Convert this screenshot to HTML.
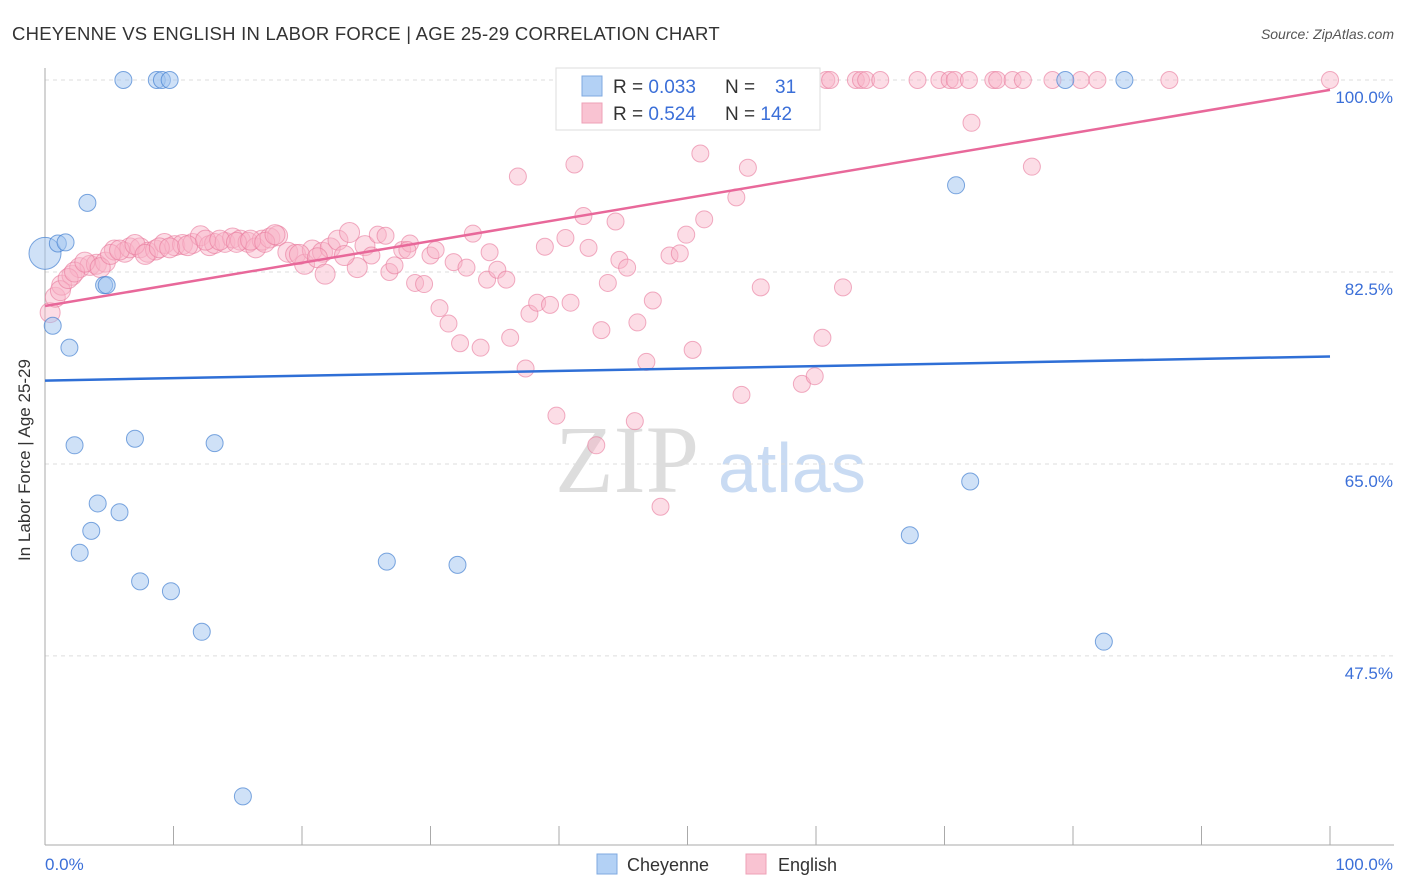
<!DOCTYPE html>
<html><head><meta charset="utf-8"><style>
body{margin:0;background:#fff;font-family:"Liberation Sans",sans-serif;}
svg{display:block}
</style></head><body>
<svg id="chart" width="1406" height="892" xmlns="http://www.w3.org/2000/svg">
<text x="12" y="40" font-size="18.5" letter-spacing="0.25" fill="#333">CHEYENNE VS ENGLISH IN LABOR FORCE | AGE 25-29 CORRELATION CHART</text>
<text x="1394" y="39" font-size="14" fill="#555" font-style="italic" text-anchor="end">Source: ZipAtlas.com</text>
<text x="555" y="492" font-size="96" fill="#ddd" font-family="Liberation Serif,serif">ZIP</text>
<text x="718" y="492" font-size="70" fill="#c9dbf3">atlas</text>
<g id="grid"></g><g id="axes"></g><g id="pts"></g><g id="trend"></g>
<text x="30" y="460" font-size="17" fill="#333" text-anchor="middle" transform="rotate(-90 30 460)">In Labor Force | Age 25-29</text>
<g>
<rect x="556" y="68" width="264" height="62" fill="#fff" stroke="#ddd"/>
<rect x="582" y="76" width="20" height="20" fill="#b3d1f5" stroke="#7fa9e0"/>
<rect x="582" y="103" width="20" height="20" fill="#f9c3d2" stroke="#eea0b7"/>
<text x="613" y="93" font-size="19" fill="#333">R = <tspan fill="#3b6fd8">0.033</tspan></text>
<text x="725" y="93" font-size="19" fill="#333">N = <tspan fill="#3b6fd8" x="775">31</tspan></text>
<text x="613" y="120" font-size="19" fill="#333">R = <tspan fill="#3b6fd8">0.524</tspan></text>
<text x="725" y="120" font-size="19" fill="#333">N = <tspan fill="#3b6fd8">142</tspan></text>
</g>
<g>
<rect x="597" y="854" width="20" height="20" fill="#b3d1f5" stroke="#7fa9e0"/>
<text x="627" y="871" font-size="18" fill="#333">Cheyenne</text>
<rect x="746" y="854" width="20" height="20" fill="#f9c3d2" stroke="#eea0b7"/>
<text x="778" y="871" font-size="18" fill="#333">English</text>
</g>
</svg>
<script>
const cheyX=[0,1.0,1.6,3.3,4.6,4.8,0.6,1.9,6.1,8.7,9.1,9.7,2.3,7.0,13.2,4.1,3.6,5.8,2.7,7.4,9.8,12.2,26.6,32.1,15.4,70.9,72.0,67.3,82.4,79.4,84.0];
const cheyY=[84.2,85.1,85.2,88.8,81.3,81.3,77.6,75.6,100,100,100,100,66.7,67.3,66.9,61.4,58.9,60.6,56.9,54.3,53.4,49.7,56.1,55.8,34.7,90.4,63.4,58.5,48.8,100,100];
const engX=[48.5,48.8,52.4,55.3,56.9,57.7,58.8,60.8,61.1,63.1,63.5,63.9,65.0,67.9,69.6,70.4,70.8,71.9,73.8,74.1,75.3,76.1,78.4,80.6,81.9,87.5,100,
0.4,0.8,1.3,2.1,2.7,3.5,4.0,4.7,5.4,6.2,6.6,7.4,8.0,8.6,9.3,10.1,10.7,11.5,12.1,12.8,13.2,14.0,14.6,15.2,15.8,16.4,16.9,17.5,18.1,18.9,19.5,20.2,20.8,21.6,22.2,22.8,23.7,24.3,24.9,25.4,25.9,26.5,26.8,27.2,27.8,28.4,28.8,29.5,30.0,30.4,30.7,31.4,31.8,32.3,32.8,33.3,33.9,34.4,34.6,35.2,35.9,36.2,36.8,37.4,37.7,38.3,38.9,39.3,39.8,40.5,40.9,41.2,41.9,42.3,42.9,43.3,43.8,44.4,44.7,45.3,45.9,46.1,46.8,47.3,47.9,48.6,49.4,49.9,50.4,51.0,51.3,53.8,54.2,54.7,55.7,58.9,59.9,60.5,62.1,72.1,76.8,
1.2,1.8,2.3,3.1,4.3,5.1,5.8,7.0,7.8,8.9,9.7,11.1,12.5,13.6,14.9,16.0,17.1,17.9,19.8,21.2,23.3,21.8,28.2];
const engY=[100,100,100,100,100,100,100,100,100,100,100,100,100,100,100,100,100,100,100,100,100,100,100,100,100,100,100,
78.8,80.2,81.3,82.2,82.9,83.1,83.2,83.4,84.5,84.3,84.7,84.7,84.3,84.5,85.1,84.9,85.0,85.1,85.8,84.9,85.1,85.2,85.6,85.4,85.2,84.7,85.4,85.6,85.8,84.3,84.1,83.2,84.5,84.3,84.7,85.4,86.1,82.9,84.9,84.0,85.9,85.8,82.5,83.1,84.5,85.1,81.5,81.4,84.0,84.5,79.2,77.8,83.4,76.0,82.9,86.0,75.6,81.8,84.3,82.7,81.8,76.5,91.2,73.7,78.7,79.7,84.8,79.5,69.4,85.6,79.7,92.3,87.6,84.7,66.7,77.2,81.5,87.1,83.6,82.9,68.9,77.9,74.3,79.9,61.1,84.0,84.2,85.9,75.4,93.3,87.3,89.3,71.3,92.0,81.1,72.3,73.0,76.5,81.1,96.1,92.1,
80.8,81.9,82.5,83.4,82.9,84.1,84.5,85.0,84.1,84.7,84.7,84.9,85.4,85.4,85.2,85.4,85.2,85.9,84.1,83.8,84.0,82.3,84.5];
const trendCheyY=[72.6,74.8];
const trendEngY=[79.4,99.1];
const yTicks=[100,82.5,65,47.5];
const yTickLabels=["100.0%","82.5%","65.0%","47.5%"];

const NS="http://www.w3.org/2000/svg";
const sx=v=>45+v*12.85;
const sy=v=>80+(100-v)*10.97;
function mk(tag,attrs,parent){const e=document.createElementNS(NS,tag);for(const k in attrs)e.setAttribute(k,attrs[k]);parent.appendChild(e);return e;}
const grid=document.getElementById('grid'),axes=document.getElementById('axes'),pts=document.getElementById('pts'),tr=document.getElementById('trend');
yTicks.forEach((t,i)=>{
 const l=mk('line',{x1:45,x2:1394,y1:sy(t),y2:sy(t),stroke:'#ddd','stroke-dasharray':'4,4'},grid);
 
 
 const tx=mk('text',{x:1393,y:sy(t)+23,'font-size':17,fill:'#3b6fd8','text-anchor':'end'},axes);
 tx.textContent=yTickLabels[i];
 
 
});
const ax=mk('line',{x1:45,x2:45,y1:68,y2:845,stroke:'#aaa'},axes);


const bx=mk('line',{x1:45,x2:1394,y1:845,y2:845,stroke:'#aaa'},axes);


for(let i=0;i<=10;i++){
 const t=mk('line',{x1:sx(i*10),x2:sx(i*10),y1:826,y2:845,stroke:'#aaa'},axes);
 
 
}
const xl=mk('text',{x:45,y:870,'font-size':17,fill:'#3b6fd8'},axes);xl.textContent='0.0%';


const xr=mk('text',{x:1393,y:870,'font-size':17,fill:'#3b6fd8','text-anchor':'end'},axes);xr.textContent='100.0%';


engX.forEach((x,i)=>{
 const c=mk('circle',{cx:sx(x),cy:sy(engY[i]),r:x<25?10:8.5,fill:'rgba(249,180,200,0.45)',stroke:'rgba(232,120,155,0.6)','stroke-width':1},pts);
 
 
});
cheyX.forEach((x,i)=>{
 const c=mk('circle',{cx:sx(x),cy:sy(cheyY[i]),r:i===0?16:8.5,fill:'rgba(160,196,240,0.5)',stroke:'rgba(70,130,210,0.7)','stroke-width':1},pts);
 
 
});
const t1=mk('line',{x1:sx(0),y1:sy(trendEngY[0]),x2:sx(100),y2:sy(trendEngY[1]),stroke:'#e8689a','stroke-width':2.5},tr);


const t2=mk('line',{x1:sx(0),y1:sy(trendCheyY[0]),x2:sx(100),y2:sy(trendCheyY[1]),stroke:'#2f6fd6','stroke-width':2.5},tr);


</script>
</body></html>
